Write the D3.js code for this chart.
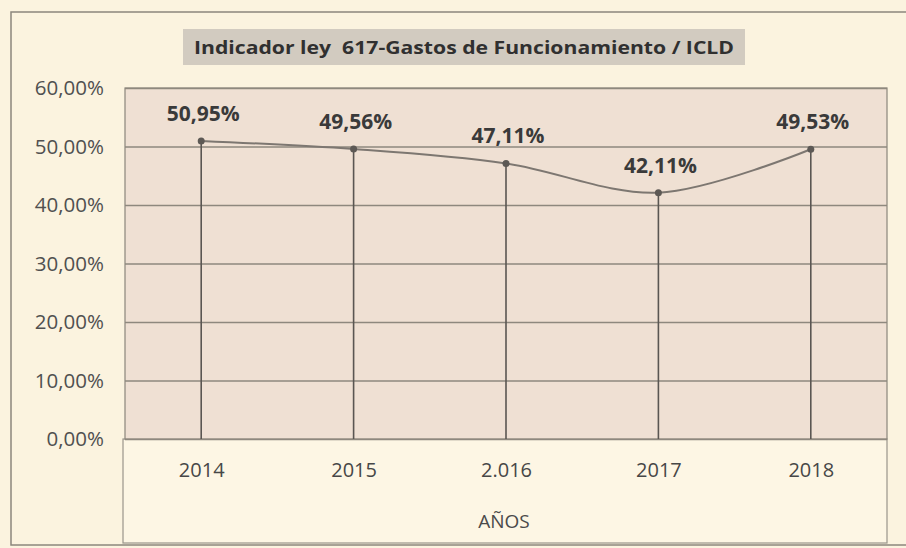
<!DOCTYPE html>
<html>
<head>
<meta charset="utf-8">
<script src="https://cdn.jsdelivr.net/npm/d3@7"></script>
<style>
  body { margin:0; background:#fbf3df; }
  svg { display:block; font-family:"Open Sans", sans-serif; }
</style>
</head>
<body>
<div id="chart"></div>
<script>
var years = ["2014", "2015", "2.016", "2017", "2018"];
var indicador = [50.95, 49.56, 47.11, 42.11, 49.53];
var yTicks = [0, 10, 20, 30, 40, 50, 60];
var titulo = "Indicador ley  617-Gastos de Funcionamiento / ICLD";
var ejeX = "AÑOS";

var W = 906, H = 548;
var margin = { left:125, right:19, top:88, bottom:109 };
var width = W - margin.left - margin.right,
    height = H - margin.top - margin.bottom;

var es = d3.formatLocale({ decimal:",", thousands:".", grouping:[3], currency:["$",""] });
var pct = function(v){ return es.format(".2f")(v) + "%"; };

var svg = d3.select("#chart").append("svg")
    .attr("width", W)
    .attr("height", H);

// outer frame
svg.append("rect")
    .attr("x", 11).attr("y", 12)
    .attr("width", 900).attr("height", 533)
    .attr("fill", "#fbf3df")
    .attr("stroke", "#8c877d")
    .attr("stroke-width", 1.5);

// title box
svg.append("rect")
    .attr("x", 183).attr("y", 29)
    .attr("width", 562).attr("height", 36)
    .attr("fill", "#d2cbc0");

svg.append("text")
    .attr("x", 464).attr("y", 54)
    .attr("text-anchor", "middle")
    .attr("font-size", "18px")
    .attr("font-weight", "bold")
    .attr("textLength", 540)
    .attr("lengthAdjust", "spacingAndGlyphs")
    .style("white-space", "pre")
    .style("fill", "#303030")
    .text(titulo);

var g = svg.append("g")
    .attr("transform", "translate(" + margin.left + "," + margin.top + ")");

var x = d3.scalePoint().domain(years).range([0, width]).padding(0.5);
var y = d3.scaleLinear().domain([0, 60]).range([height, 0]);

// category axis box
g.append("rect")
    .attr("x", -2).attr("y", height)
    .attr("width", width + 2).attr("height", 104)
    .attr("fill", "#fdf6e4")
    .attr("stroke", "#9a958b")
    .attr("stroke-width", 1.2);

// plot area
g.append("rect")
    .attr("width", width).attr("height", height)
    .attr("fill", "#efe0d3")
    .attr("stroke", "#8a857c")
    .attr("stroke-width", 1.2);

// gridlines
g.append("g")
    .call(d3.axisLeft(y).tickValues(yTicks).tickSize(-width).tickFormat(""))
    .call(function(s){
        s.select(".domain").remove();
        s.selectAll("line").attr("stroke", "#8e887e").attr("stroke-width", 1.3);
    });

// y labels
g.append("g")
    .call(d3.axisLeft(y).tickValues(yTicks).tickSize(0).tickPadding(21).tickFormat(pct))
    .call(function(s){
        s.select(".domain").remove();
        s.selectAll("text")
            .attr("font-size", "20.5px")
            .attr("font-family", "'Open Sans', sans-serif")
            .style("fill", "#505050");
    });

// x labels
g.append("g")
    .attr("transform", "translate(0," + height + ")")
    .call(d3.axisBottom(x).tickSize(0).tickPadding(24))
    .call(function(s){
        s.select(".domain").remove();
        s.selectAll("text")
            .attr("font-size", "20px")
            .attr("font-family", "'Open Sans', sans-serif")
            .style("fill", "#474747");
    });

g.append("text")
    .attr("x", width / 2 - 2)
    .attr("y", height + 89)
    .attr("text-anchor", "middle")
    .attr("font-size", "19px")
    .style("fill", "#4a4a4a")
    .text(ejeX);

var pts = years.map(function(d, i){ return { year:d, value:indicador[i] }; });

// drop lines
g.selectAll(".drop")
    .data(pts)
    .enter().append("line")
    .attr("class", "drop")
    .attr("x1", function(d){ return x(d.year); })
    .attr("x2", function(d){ return x(d.year); })
    .attr("y1", function(d){ return y(d.value); })
    .attr("y2", height)
    .attr("stroke", "#5a5652")
    .attr("stroke-width", 1.6);

var line = d3.line()
    .x(function(d){ return x(d.year); })
    .y(function(d){ return y(d.value); })
    .curve(d3.curveCatmullRom.alpha(0.5));

g.append("path")
    .datum(pts)
    .attr("d", line)
    .attr("fill", "none")
    .attr("stroke", "#7d7771")
    .attr("stroke-width", 2);

g.selectAll(".dot")
    .data(pts)
    .enter().append("circle")
    .attr("class", "dot")
    .attr("cx", function(d){ return x(d.year); })
    .attr("cy", function(d){ return y(d.value); })
    .attr("r", 3.5)
    .attr("fill", "#5d5955");

g.selectAll(".lbl")
    .data(pts)
    .enter().append("text")
    .attr("class", "lbl")
    .attr("x", function(d){ return x(d.year) + 2; })
    .attr("y", function(d){ return y(d.value) - 20; })
    .attr("text-anchor", "middle")
    .attr("font-size", "21px")
    .attr("font-weight", "bold")
    .style("fill", "#3a3a3a")
    .text(function(d){ return pct(d.value); });
</script>
</body>
</html>
